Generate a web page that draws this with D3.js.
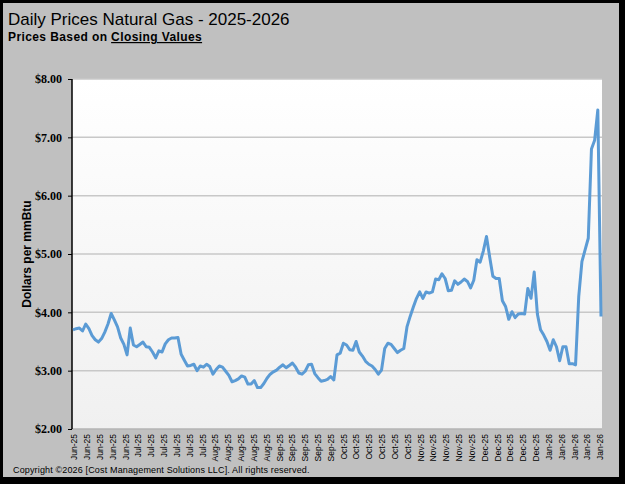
<!DOCTYPE html>
<html>
<head>
<meta charset="utf-8">
<script src="https://cdn.jsdelivr.net/npm/d3@7"></script>
<style>
    body { margin: 0; background: #000; }
    svg { display: block; }
</style>
</head>
<body>
<svg width="625" height="484"></svg>
<script>
// daily closing prices, $/mmBtu
const prices = [
    3.70, 3.72, 3.73, 3.68, 3.80, 3.72, 3.60, 3.53, 3.49, 3.55,
    3.66, 3.80, 3.98, 3.87, 3.75, 3.56, 3.45, 3.27, 3.73, 3.44,
    3.41, 3.45, 3.49, 3.41, 3.40, 3.32, 3.22, 3.34, 3.32, 3.46,
    3.53, 3.56, 3.56, 3.57, 3.28, 3.18, 3.08, 3.09, 3.11, 3.00,
    3.08, 3.06, 3.11, 3.07, 2.94, 3.02, 3.08, 3.06, 2.99, 2.92,
    2.81, 2.83, 2.86, 2.91, 2.89, 2.77, 2.77, 2.83, 2.71, 2.71,
    2.78, 2.87, 2.94, 2.98, 3.01, 3.06, 3.10, 3.05, 3.09, 3.13,
    3.06, 2.96, 2.94, 2.99, 3.10, 3.11, 2.95, 2.88, 2.82, 2.83,
    2.85, 2.90, 2.84, 3.27, 3.30, 3.47, 3.44, 3.36, 3.35, 3.50,
    3.32, 3.25, 3.16, 3.11, 3.08, 3.02, 2.94, 3.01, 3.38, 3.47,
    3.45, 3.38, 3.31, 3.35, 3.38, 3.75, 3.93, 4.09, 4.24, 4.35,
    4.24, 4.35, 4.33, 4.35, 4.57, 4.56, 4.66, 4.58, 4.37, 4.38,
    4.54, 4.48, 4.52, 4.57, 4.53, 4.42, 4.55, 4.90, 4.86, 5.05,
    5.30, 4.95, 4.62, 4.58, 4.58, 4.20, 4.10, 3.88, 4.01, 3.91,
    3.97, 3.98, 3.97, 4.41, 4.24, 4.69, 3.97, 3.70, 3.61, 3.50,
    3.35, 3.53, 3.41, 3.17, 3.41, 3.41, 3.12, 3.12, 3.10, 4.27,
    4.87, 5.07, 5.27, 6.80, 6.95, 7.47, 3.93
]

const xLabels = [
    "Jun-25", "Jun-25", "Jun-25", "Jun-25", "Jun-25",
    "Jul-25", "Jul-25", "Jul-25", "Jul-25", "Jul-25", "Jul-25",
    "Aug-25", "Aug-25", "Aug-25", "Aug-25", "Aug-25",
    "Sep-25", "Sep-25", "Sep-25", "Sep-25", "Sep-25",
    "Oct-25", "Oct-25", "Oct-25", "Oct-25", "Oct-25", "Oct-25",
    "Nov-25", "Nov-25", "Nov-25", "Nov-25", "Nov-25",
    "Dec-25", "Dec-25", "Dec-25", "Dec-25", "Dec-25",
    "Jan-26", "Jan-26", "Jan-26", "Jan-26", "Jan-26"
]

const yTicks = [2, 3, 4, 5, 6, 7, 8]

const svg = d3.select("svg")

const plotL = 72, plotR = 602, plotT = 79, plotB = 429

const xScale = d3.scaleLinear().domain([0, prices.length - 1]).range([plotL + 1, plotR - 1])
const yScale = d3.scaleLinear().domain([2, 8]).range([plotB, plotT])
const labelScale = d3.scalePoint().domain(d3.range(xLabels.length)).range([plotL + 2, plotR - 2])

// frame
svg.append("rect")
    .attr("x", 2.5)
    .attr("y", 2.5)
    .attr("width", 617)
    .attr("height", 475)
    .style("fill", "#c0c0c0")
    .style("stroke", "#000")
    .style("stroke-width", 1)

// plot background
const grad = svg.append("defs")
    .append("linearGradient")
    .attr("id", "plotBg")
    .attr("x1", 0).attr("y1", 0)
    .attr("x2", 0).attr("y2", 1)
grad.append("stop").attr("offset", "0%").attr("stop-color", "#ffffff")
grad.append("stop").attr("offset", "100%").attr("stop-color", "#f0f0f0")

svg.append("rect")
    .attr("x", plotL)
    .attr("y", plotT)
    .attr("width", plotR - plotL)
    .attr("height", plotB - plotT)
    .style("fill", "url(#plotBg)")

// titles
svg.append("text")
    .attr("x", 8)
    .attr("y", 25)
    .style("font-family", "Liberation Sans, Arial, sans-serif")
    .style("font-size", "17px")
    .text("Daily Prices Natural Gas - 2025-2026")

const sub = svg.append("text")
    .attr("x", 8)
    .attr("y", 41)
    .style("font-family", "Liberation Sans, Arial, sans-serif")
    .style("font-size", "12px")
    .style("font-weight", "bold")
    .style("letter-spacing", "0.4px")
sub.append("tspan").text("Prices Based on ")
sub.append("tspan").style("text-decoration", "underline").text("Closing Values")

// gridlines
svg.append("g")
    .selectAll("line")
    .data(yTicks.filter(d => d > 2))
    .enter()
    .append("line")
    .attr("x1", plotL)
    .attr("x2", plotR)
    .attr("y1", d => yScale(d))
    .attr("y2", d => yScale(d))
    .style("stroke", "#c8c8c8")
    .style("stroke-width", 1.5)

// bottom line
svg.append("line")
    .attr("x1", plotL)
    .attr("x2", plotR)
    .attr("y1", plotB)
    .attr("y2", plotB)
    .style("stroke", "#b4b4b4")
    .style("stroke-width", 1.5)

// y axis
const yAxis = d3.axisLeft(yScale)
    .tickValues(yTicks)
    .tickSize(4)
    .tickPadding(6)
    .tickFormat(d3.format("$.2f"))

svg.append("g")
    .attr("transform", `translate(${plotL},0)`)
    .call(yAxis)
    .call(g => g.select(".domain").attr("d", `M0,${plotT}V${plotB}`).style("stroke-width", 1.5))
    .call(g => g.selectAll("text")
        .style("font-family", "Liberation Serif, Times New Roman, serif")
        .style("font-size", "12px")
        .style("font-weight", "bold"))

// y-axis label
svg.append("text")
    .attr("transform", `translate(31,${(plotT + plotB) / 2}) rotate(-90)`)
    .style("text-anchor", "middle")
    .style("font-family", "Liberation Sans, Arial, sans-serif")
    .style("font-size", "12px")
    .style("font-weight", "bold")
    .text("Dollars per mmBtu")

// x labels
const xAxis = d3.axisBottom(labelScale)
    .tickSize(0)
    .tickFormat(i => xLabels[i])

svg.append("g")
    .attr("transform", `translate(0,${plotB})`)
    .call(xAxis)
    .call(g => g.select(".domain").remove())
    .call(g => g.selectAll("text")
        .attr("transform", "rotate(-90)")
        .attr("x", -5)
        .attr("y", 0)
        .attr("dy", "0.32em")
        .style("text-anchor", "end")
        .style("font-family", "Liberation Sans, Arial, sans-serif")
        .style("font-size", "8.5px"))

// price line
const line = d3.line()
    .x((d, i) => xScale(i))
    .y(d => yScale(d))

svg.append("path")
    .datum(prices)
    .attr("d", line)
    .style("fill", "none")
    .style("stroke", "#5b9bd5")
    .style("stroke-width", 3)
    .style("stroke-linejoin", "round")

// copyright
svg.append("text")
    .attr("x", 13)
    .attr("y", 473)
    .style("font-family", "Liberation Sans, Arial, sans-serif")
    .style("font-size", "9px")
    .style("letter-spacing", "0.15px")
    .text("Copyright \u00a92026 [Cost Management Solutions LLC].  All rights reserved.")
</script>
</body>
</html>
